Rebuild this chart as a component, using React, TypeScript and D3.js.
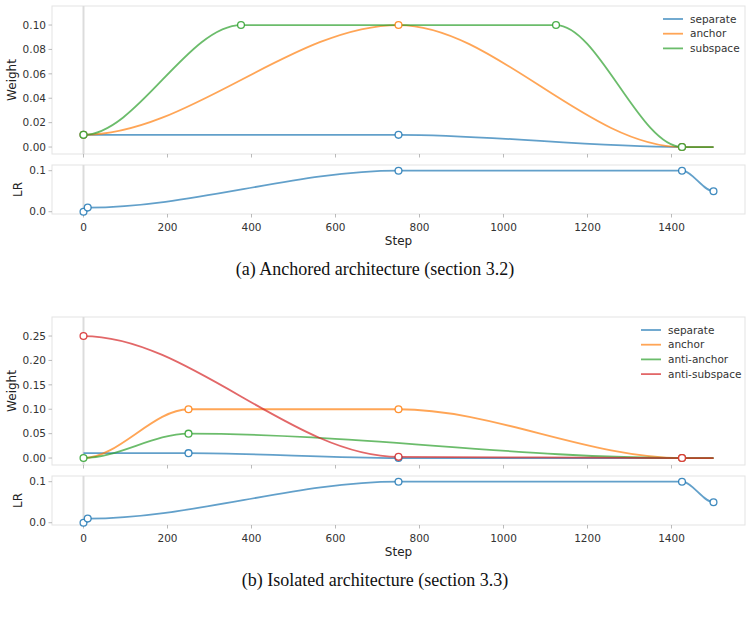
import React, { useRef, useEffect } from 'react';
import * as d3 from 'd3';

// Keyframes of each schedule: [step, value]
const STEP_TICKS = [0, 200, 400, 600, 800, 1000, 1200, 1400];
const LR_TICKS = [0, 0.1];
const LR_KEYS: [number, number][] = [[0, 0], [10, 0.01], [750, 0.1], [1425, 0.1], [1500, 0.05]];
const LR_MARKS = [0, 10, 750, 1425, 1500];

// (a) anchored
const A_WEIGHT_TICKS = [0, 0.02, 0.04, 0.06, 0.08, 0.1];
const A_SEPARATE: [number, number][] = [[0, 0.01], [750, 0.01], [1425, 0], [1500, 0]];
const A_ANCHOR: [number, number][] = [[0, 0.01], [750, 0.1], [1425, 0], [1500, 0]];
const A_SUBSPACE: [number, number][] = [[0, 0.01], [375, 0.1], [1125, 0.1], [1425, 0], [1500, 0]];

// (b) isolated
const B_WEIGHT_TICKS = [0, 0.05, 0.1, 0.15, 0.2, 0.25];
const B_SEPARATE: [number, number][] = [[0, 0.01], [250, 0.01], [750, 0], [1425, 0], [1500, 0]];
const B_ANCHOR: [number, number][] = [[0, 0], [250, 0.1], [750, 0.1], [1425, 0], [1500, 0]];
const B_ANTI_ANCHOR: [number, number][] = [[0, 0], [250, 0.05], [1425, 0], [1500, 0]];
const B_ANTI_SUBSPACE: [number, number][] = [[0, 0.25], [750, 0.0025], [1425, 0], [1500, 0]];

const BLUE = '#1f77b4';
const ORANGE = '#ff7f0e';
const GREEN = '#2ca02c';
const RED = '#d62728';

const FIGURES = [
  {
    caption: '(a) Anchored architecture (section 3.2)',
    top: 6,
    weightMax: 0.1,
    weightTicks: A_WEIGHT_TICKS,
    fmt: (d: number) => d.toFixed(2),
    series: [
      { name: 'separate', color: BLUE, keys: A_SEPARATE, marks: [0, 750, 1425] },
      { name: 'anchor', color: ORANGE, keys: A_ANCHOR, marks: [0, 750, 1425] },
      { name: 'subspace', color: GREEN, keys: A_SUBSPACE, marks: [0, 375, 1125, 1425] },
    ],
  },
  {
    caption: '(b) Isolated architecture (section 3.3)',
    top: 317,
    weightMax: 0.25,
    weightTicks: B_WEIGHT_TICKS,
    fmt: (d: number) => d.toFixed(2),
    series: [
      { name: 'separate', color: BLUE, keys: B_SEPARATE, marks: [250, 750, 1425] },
      { name: 'anchor', color: ORANGE, keys: B_ANCHOR, marks: [250, 750, 1425] },
      { name: 'anti-anchor', color: GREEN, keys: B_ANTI_ANCHOR, marks: [0, 250] },
      { name: 'anti-subspace', color: RED, keys: B_ANTI_SUBSPACE, marks: [0, 750, 1425] },
    ],
  },
];

// eased segments between keyframes: flat tangents at every keyframe
function curveEase(context: any) {
  let x0 = 0, y0 = 0, n = 0;
  return {
    areaStart() {},
    areaEnd() {},
    lineStart() { n = 0; },
    lineEnd() {},
    point(x: number, y: number) {
      if (n++ === 0) context.moveTo(x, y);
      else {
        const dx = (x - x0) / 3;
        context.bezierCurveTo(x0 + dx, y0, x - dx, y, x, y);
      }
      x0 = x; y0 = y;
    },
  };
}

const FONT = 'DejaVu Sans, sans-serif';

export default function App() {
  const ref = useRef<SVGSVGElement>(null);

  useEffect(() => {
    document.body.style.margin = '0';
    const svg = d3.select(ref.current);
    svg.selectAll('*').remove();

    const left = 52, right = 745;
    const x = d3.scaleLinear().domain([-75, 1575]).range([left, right]);

    const axesFrame = (g: any, y0: number, y1: number) => {
      g.append('rect')
        .attr('x', left).attr('y', y0)
        .attr('width', right - left).attr('height', y1 - y0)
        .attr('fill', 'none').attr('stroke', '#e3e3e3').attr('stroke-width', 1);
      g.append('line')
        .attr('x1', x(0)).attr('x2', x(0))
        .attr('y1', y0).attr('y2', y1)
        .attr('stroke', '#dcdcdc').attr('stroke-width', 2);
      // bottom ticks
      STEP_TICKS.forEach(t => {
        g.append('line')
          .attr('x1', x(t)).attr('x2', x(t))
          .attr('y1', y1).attr('y2', y1 + 3.5)
          .attr('stroke', '#aaa').attr('stroke-width', 0.8);
      });
    };

    const yTicks = (g: any, y: any, ticks: number[], fmt: (d: number) => string) => {
      ticks.forEach(t => {
        g.append('line')
          .attr('x1', left - 3.5).attr('x2', left)
          .attr('y1', y(t)).attr('y2', y(t))
          .attr('stroke', '#aaa').attr('stroke-width', 0.8);
        g.append('text')
          .attr('x', left - 6).attr('y', y(t))
          .attr('dy', '0.35em')
          .attr('text-anchor', 'end')
          .attr('font-size', '10.5px').attr('font-family', FONT)
          .attr('fill', '#333')
          .text(fmt(t));
      });
    };

    const line = d3.line<[number, number]>()
      .curve(curveEase as any);

    FIGURES.forEach(fig => {
      const g = svg.append('g');
      const wTop = fig.top, wBot = fig.top + 148;
      const lTop = wBot + 11, lBot = lTop + 49;

      // ── Weight panel ─────────────────────────────────────────────
      const yW = d3.scaleLinear()
        .domain([-0.057 * fig.weightMax, 1.156 * fig.weightMax])
        .range([wBot, wTop]);
      axesFrame(g, wTop, wBot);
      yTicks(g, yW, fig.weightTicks, fig.fmt);

      g.append('text')
        .attr('transform', `translate(12,${(wTop + wBot) / 2}) rotate(-90)`)
        .attr('text-anchor', 'middle').attr('dy', '0.35em')
        .attr('font-size', '12px').attr('font-family', FONT).attr('fill', '#222')
        .text('Weight');

      const lw = line.x(d => x(d[0])).y(d => yW(d[1]));
      fig.series.forEach(s => {
        g.append('path')
          .attr('d', lw(s.keys))
          .attr('fill', 'none')
          .attr('stroke', s.color).attr('stroke-opacity', 0.7)
          .attr('stroke-width', 1.8);
      });
      fig.series.forEach(s => {
        s.marks.forEach(m => {
          const k = s.keys.find(p => p[0] === m)!;
          g.append('circle')
            .attr('cx', x(k[0])).attr('cy', yW(k[1]))
            .attr('r', 3.4)
            .attr('fill', '#fff')
            .attr('stroke', s.color).attr('stroke-opacity', 0.85)
            .attr('stroke-width', 1.3);
        });
      });

      // legend
      fig.series.forEach((s, i) => {
        const lx = right - 82 - (fig.series.length > 3 ? 22 : 0);
        const ly = wTop + 13 + i * 14.7;
        g.append('line')
          .attr('x1', lx).attr('x2', lx + 20)
          .attr('y1', ly).attr('y2', ly)
          .attr('stroke', s.color).attr('stroke-opacity', 0.7)
          .attr('stroke-width', 1.8);
        g.append('text')
          .attr('x', lx + 27).attr('y', ly).attr('dy', '0.35em')
          .attr('font-size', '10.5px').attr('font-family', FONT).attr('fill', '#333')
          .text(s.name);
      });

      // ── LR panel ────────────────────────────────────────────────
      const yL = d3.scaleLinear().domain([-0.0056, 0.1139]).range([lBot, lTop]);
      axesFrame(g, lTop, lBot);
      yTicks(g, yL, LR_TICKS, d => d.toFixed(1));

      g.append('text')
        .attr('transform', `translate(18,${(lTop + lBot) / 2}) rotate(-90)`)
        .attr('text-anchor', 'middle').attr('dy', '0.35em')
        .attr('font-size', '12px').attr('font-family', FONT).attr('fill', '#222')
        .text('LR');

      const ll = line.x(d => x(d[0])).y(d => yL(d[1]));
      g.append('path')
        .attr('d', ll(LR_KEYS))
        .attr('fill', 'none')
        .attr('stroke', BLUE).attr('stroke-opacity', 0.7)
        .attr('stroke-width', 1.8);
      LR_MARKS.forEach(m => {
        const k = LR_KEYS.find(p => p[0] === m)!;
        g.append('circle')
          .attr('cx', x(k[0])).attr('cy', yL(k[1]))
          .attr('r', 3.4)
          .attr('fill', '#fff')
          .attr('stroke', BLUE).attr('stroke-opacity', 0.85)
          .attr('stroke-width', 1.3);
      });

      STEP_TICKS.forEach(t => {
        g.append('text')
          .attr('x', x(t)).attr('y', lBot + 13).attr('dy', '0.35em')
          .attr('text-anchor', 'middle')
          .attr('font-size', '10.5px').attr('font-family', FONT).attr('fill', '#333')
          .text(String(t));
      });
      g.append('text')
        .attr('x', (left + right) / 2).attr('y', lBot + 27).attr('dy', '0.35em')
        .attr('text-anchor', 'middle')
        .attr('font-size', '12px').attr('font-family', FONT).attr('fill', '#222')
        .text('Step');

      g.append('text')
        .attr('x', 375).attr('y', lBot + 55).attr('dy', '0.35em')
        .attr('text-anchor', 'middle')
        .attr('font-size', '18px').attr('font-family', 'Liberation Serif, serif')
        .attr('fill', '#111')
        .text(fig.caption);
    });
  }, []);

  return <svg ref={ref} width={751} height={620} style={{ display: 'block', background: '#fff' }} />;
}
